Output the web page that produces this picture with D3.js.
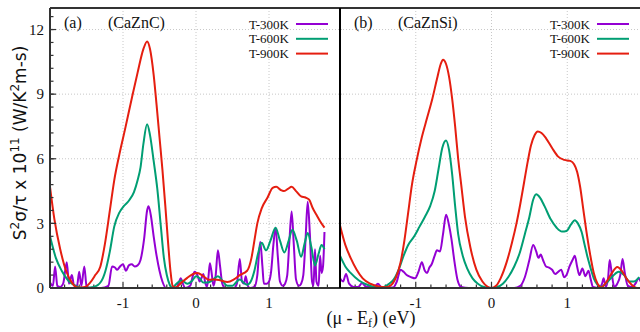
<!DOCTYPE html>
<html>
<head>
<meta charset="utf-8">
<script src="https://cdn.jsdelivr.net/npm/d3@7"></script>
<style>
  body { margin: 0; background: #fff; }
  svg { display: block; }
  text { font-family: "Liberation Serif", serif; fill: #111; }
</style>
</head>
<body>
<script>
// tick values
var xTicks = [-1, 0, 1];
var yTicks = [0, 3, 6, 9, 12];
var legendNames = ["T-300K", "T-600K", "T-900K"];
var panelNames = [["(a)", "(CaZnC)"], ["(b)", "(CaZnSi)"]];
var colors = ["#9400d3", "#009e73", "#e51e10"];

// (a) CaZnC  [mu - Ef, S^2 sigma/tau]
var caznc300 = [[-2,0.25],[-1.96,0.1],[-1.93,1.0],[-1.9,0.1],[-1.86,0.05],[-1.82,0.2],[-1.77,1.2],[-1.74,0.2],[-1.7,0.6],[-1.67,0.1],[-1.63,0.1],[-1.6,0.75],[-1.57,0.1],[-1.53,1.0],[-1.5,0.1],[-1.46,0],[-1.3,0],[-1.2,0.1],[-1.15,1.0],[-1.11,0.95],[-1.08,0.85],[-1.04,1.0],[-1.0,1.1],[-0.96,0.8],[-0.92,1.05],[-0.88,1.1],[-0.84,1.0],[-0.8,1.05],[-0.76,1.3],[-0.71,2.3],[-0.67,3.6],[-0.65,3.8],[-0.62,3.4],[-0.58,2.4],[-0.54,1.5],[-0.5,0.8],[-0.46,0.3],[-0.41,0],[-0.27,0],[-0.23,0.3],[-0.21,0.45],[-0.18,0.2],[-0.15,0],[-0.08,0.1],[-0.04,0.6],[-0.02,0.75],[0.02,0.6],[0.05,0.3],[0.08,0.5],[0.1,0.65],[0.13,0.2],[0.15,0.05],[0.17,0.5],[0.19,1.15],[0.21,0.8],[0.24,0.1],[0.27,0.6],[0.3,1.75],[0.33,1.0],[0.36,0.2],[0.4,0],[0.52,0],[0.56,0.2],[0.6,1.35],[0.63,0.3],[0.66,0.2],[0.68,0.55],[0.71,0.1],[0.74,0],[0.8,0.05],[0.84,0.6],[0.88,2.15],[0.91,1.0],[0.93,0.2],[0.97,0.2],[1.0,0.3],[1.03,0.8],[1.06,2.0],[1.09,2.8],[1.12,1.5],[1.15,0.3],[1.19,0.1],[1.22,0.2],[1.25,0.6],[1.28,2.2],[1.31,3.55],[1.34,2.0],[1.37,0.4],[1.41,0.1],[1.44,0.2],[1.47,0.6],[1.5,2.2],[1.53,4.0],[1.56,2.5],[1.59,0.3],[1.61,0.1],[1.63,1.8],[1.65,0.3],[1.68,0.1],[1.7,1.5],[1.72,0.7],[1.74,1.0],[1.76,2.6]];
var caznc600 = [[-2,2.4],[-1.92,1.4],[-1.84,0.8],[-1.75,0.35],[-1.65,0.1],[-1.55,0],[-1.4,0.05],[-1.3,0.3],[-1.24,0.8],[-1.18,1.7],[-1.12,2.85],[-1.05,3.5],[-0.99,3.8],[-0.92,4.05],[-0.85,4.45],[-0.8,5.0],[-0.76,5.6],[-0.72,6.7],[-0.67,7.6],[-0.63,7.1],[-0.58,5.9],[-0.53,4.6],[-0.48,2.8],[-0.44,1.4],[-0.4,0.6],[-0.36,0.15],[-0.32,0],[-0.28,0.15],[-0.2,0.35],[-0.12,0.2],[-0.05,0.35],[0,0.55],[0.05,0.45],[0.1,0.25],[0.16,0.25],[0.22,0.35],[0.3,0.55],[0.36,0.35],[0.43,0.1],[0.5,0.1],[0.56,0.3],[0.6,0.4],[0.65,0.25],[0.7,0.15],[0.75,0.3],[0.8,0.8],[0.85,1.6],[0.9,2.1],[0.96,1.75],[1.02,2.2],[1.09,2.8],[1.15,2.2],[1.21,1.65],[1.27,2.2],[1.32,2.7],[1.38,2.2],[1.44,1.45],[1.49,2.1],[1.53,2.55],[1.58,1.9],[1.63,1.05],[1.68,1.6],[1.72,2.0],[1.76,1.8]];
var caznc900 = [[-2,4.7],[-1.94,3.2],[-1.86,1.8],[-1.78,0.8],[-1.7,0.25],[-1.62,0.02],[-1.52,0.05],[-1.45,0.25],[-1.38,0.6],[-1.31,1.0],[-1.25,2.0],[-1.18,3.6],[-1.12,5.0],[-1.05,6.2],[-0.97,7.4],[-0.88,8.8],[-0.8,10.0],[-0.72,11.1],[-0.67,11.45],[-0.63,11.1],[-0.58,9.9],[-0.54,8.5],[-0.5,7.0],[-0.46,5.5],[-0.42,3.8],[-0.38,2.0],[-0.35,0.8],[-0.32,0.1],[-0.28,0.02],[-0.2,0.25],[-0.12,0.47],[-0.04,0.65],[0.02,0.7],[0.1,0.55],[0.18,0.38],[0.26,0.4],[0.34,0.35],[0.43,0.28],[0.52,0.4],[0.6,0.6],[0.7,0.8],[0.76,1.4],[0.8,2.2],[0.84,3.0],[0.9,3.7],[0.98,4.2],[1.05,4.65],[1.1,4.7],[1.16,4.55],[1.2,4.5],[1.26,4.6],[1.31,4.7],[1.37,4.5],[1.44,4.25],[1.5,4.2],[1.55,4.1],[1.6,3.7],[1.65,3.4],[1.7,3.1],[1.76,2.8]];

// (b) CaZnSi
var caznsi300 = [[-2,0.45],[-1.96,0.3],[-1.92,0.65],[-1.88,0.2],[-1.82,0.05],[-1.76,0.05],[-1.71,0.22],[-1.65,0.05],[-1.55,0.05],[-1.5,0.2],[-1.45,0.02],[-1.3,0.02],[-1.25,0.3],[-1.2,0.85],[-1.16,0.75],[-1.12,0.6],[-1.06,0.5],[-1.01,0.45],[-0.96,0.8],[-0.92,1.2],[-0.88,0.8],[-0.85,0.7],[-0.82,0.95],[-0.79,1.1],[-0.75,1.5],[-0.72,1.75],[-0.68,1.7],[-0.64,2.5],[-0.6,3.4],[-0.56,2.9],[-0.53,2.3],[-0.49,1.25],[-0.45,0.4],[-0.4,0.05],[-0.3,0],[0.3,0],[0.38,0.1],[0.44,0.5],[0.5,1.3],[0.55,2.0],[0.59,1.7],[0.62,1.4],[0.65,1.55],[0.68,1.3],[0.72,1.0],[0.76,0.95],[0.8,0.85],[0.84,0.65],[0.88,0.75],[0.92,0.85],[0.96,0.5],[0.99,0.6],[1.03,1.0],[1.07,1.3],[1.1,1.5],[1.13,1.0],[1.16,0.6],[1.2,0.9],[1.24,0.55],[1.28,0.8],[1.31,0.4],[1.34,0.05],[1.42,0],[1.46,0.2],[1.48,0.45],[1.51,0.05],[1.54,0.5],[1.56,1.3],[1.59,0.6],[1.62,0.05],[1.66,0.2],[1.7,0.6],[1.73,1.35],[1.76,0.7],[1.8,0.1],[1.86,0.05],[1.9,0.2],[1.94,0.45],[1.97,0.3]];
var caznsi600 = [[-2,1.5],[-1.93,1.0],[-1.86,0.7],[-1.75,0.35],[-1.64,0.15],[-1.5,0.02],[-1.42,0.05],[-1.35,0.2],[-1.29,0.4],[-1.22,0.9],[-1.16,1.5],[-1.1,2.0],[-1.02,2.4],[-0.95,2.85],[-0.88,3.3],[-0.81,3.8],[-0.75,4.5],[-0.7,5.5],[-0.65,6.5],[-0.6,6.85],[-0.56,6.4],[-0.52,5.3],[-0.48,3.8],[-0.44,2.5],[-0.38,1.5],[-0.32,0.9],[-0.25,0.45],[-0.18,0.2],[-0.1,0.05],[0,0],[0.08,0.05],[0.15,0.2],[0.22,0.5],[0.3,1.0],[0.37,1.6],[0.44,2.5],[0.5,3.3],[0.55,4.1],[0.59,4.35],[0.64,4.2],[0.7,3.8],[0.78,3.2],[0.86,2.8],[0.93,2.62],[0.99,2.65],[1.05,2.95],[1.1,3.15],[1.14,3.0],[1.19,2.6],[1.23,2.0],[1.27,1.4],[1.31,0.9],[1.35,0.45],[1.4,0.15],[1.45,0.05],[1.52,0.25],[1.6,0.55],[1.68,0.75],[1.75,0.6],[1.82,0.3],[1.88,0.3],[1.95,0.5]];
var caznsi900 = [[-2,2.9],[-1.93,2.0],[-1.86,1.4],[-1.78,0.85],[-1.7,0.45],[-1.6,0.2],[-1.5,0.08],[-1.4,0.03],[-1.32,0.15],[-1.26,0.5],[-1.2,1.2],[-1.15,2.2],[-1.1,3.5],[-1.05,4.8],[-0.99,5.9],[-0.92,7.0],[-0.85,7.9],[-0.78,8.8],[-0.72,9.7],[-0.67,10.4],[-0.64,10.6],[-0.6,10.4],[-0.56,9.8],[-0.52,8.8],[-0.48,7.5],[-0.44,6.0],[-0.4,4.8],[-0.35,3.3],[-0.28,1.9],[-0.2,0.85],[-0.12,0.3],[-0.05,0.05],[0,0],[0.06,0.1],[0.12,0.45],[0.2,1.2],[0.27,2.1],[0.33,3.0],[0.38,3.9],[0.43,4.9],[0.48,5.9],[0.52,6.6],[0.57,7.1],[0.61,7.27],[0.66,7.2],[0.72,6.95],[0.8,6.5],[0.88,6.1],[0.96,5.95],[1.04,5.9],[1.09,5.75],[1.13,5.4],[1.17,4.7],[1.21,3.7],[1.25,2.7],[1.3,1.6],[1.35,0.7],[1.4,0.2],[1.45,0.03],[1.52,0.3],[1.59,0.7],[1.66,0.98],[1.72,0.8],[1.78,0.45],[1.85,0.15],[1.92,0],[1.96,0]];

var W = 640, H = 332;
var yTop = 8, yBot = 288;

var svg = d3.select("body").append("svg")
    .attr("width", W)
    .attr("height", H);

var y = d3.scaleLinear().domain([0, 13]).range([yBot, yTop]);

var panels = [
    {x0: 50, x1: 342, series: [caznc300, caznc600, caznc900], legX: 289},
    {x0: 340, x1: 643, series: [caznsi300, caznsi600, caznsi900], legX: 590}
];

svg.append("defs").append("clipPath").attr("id", "clipb")
    .append("rect").attr("x", 340).attr("y", yTop).attr("width", 300).attr("height", yBot - yTop);

panels.forEach(function (p, pi) {
    var x = d3.scaleLinear().domain([-2, 2]).range([p.x0, p.x1]);
    var g = svg.append("g");
    var xEnd = Math.min(p.x1, 640);

    // grid
    g.selectAll(".gx").data(xTicks).enter().append("line")
        .attr("x1", function (d) { return x(d); }).attr("x2", function (d) { return x(d); })
        .attr("y1", yTop).attr("y2", yBot)
        .attr("stroke", "#c8c8c8").attr("stroke-dasharray", "1,2");
    g.selectAll(".gy").data(yTicks.slice(1)).enter().append("line")
        .attr("x1", p.x0).attr("x2", xEnd)
        .attr("y1", function (d) { return y(d); }).attr("y2", function (d) { return y(d); })
        .attr("stroke", "#c8c8c8").attr("stroke-dasharray", "1,2");

    // x ticks (inward)
    var minor = d3.range(-1.8, 2, 0.2).map(function (d) { return Math.round(d * 10) / 10; });
    g.selectAll(".mx").data(minor).enter().append("line")
        .attr("x1", function (d) { return x(d); }).attr("x2", function (d) { return x(d); })
        .attr("y1", yBot).attr("y2", function (d) { return xTicks.indexOf(d) >= 0 ? yBot - 6 : yBot - 3.5; })
        .attr("stroke", "#333").attr("stroke-width", 1.2);

    g.selectAll(".tx").data(xTicks).enter().append("text")
        .attr("x", function (d) { return x(d); })
        .attr("y", 308)
        .attr("text-anchor", "middle")
        .style("font-size", "15px")
        .text(function (d) { return d; });

    // curves
    var line = d3.line()
        .x(function (d) { return x(d[0]); })
        .y(function (d) { return y(d[1]); })
        .curve(d3.curveMonotoneX);
    var cg = g.append("g");
    if (pi === 1) cg.attr("clip-path", "url(#clipb)");
    p.series.forEach(function (s, i) {
        cg.append("path")
            .attr("d", line(s))
            .attr("fill", "none")
            .attr("stroke", colors[i])
            .attr("stroke-width", 2)
            .attr("stroke-linejoin", "round");
    });

    // frame
    g.append("line").attr("x1", p.x0).attr("x2", xEnd).attr("y1", yBot).attr("y2", yBot)
        .attr("stroke", "#333").attr("stroke-width", 2);
    g.append("line").attr("x1", p.x0).attr("x2", xEnd).attr("y1", yTop).attr("y2", yTop)
        .attr("stroke", "#333").attr("stroke-width", 2);

    // titles
    g.append("text").attr("x", p.x0 + 14).attr("y", 28).style("font-size", "16px").text(panelNames[pi][0]);
    g.append("text").attr("x", p.x0 + 58).attr("y", 28).style("font-size", "16px").text(panelNames[pi][1]);

    // legend
    legendNames.forEach(function (n, i) {
        var ly = 24 + i * 14.8;
        g.append("text").attr("x", p.legX).attr("y", ly + 4.5)
            .attr("text-anchor", "end").style("font-size", "13px").text(n);
        g.append("line").attr("x1", p.legX + 7).attr("x2", p.legX + 39)
            .attr("y1", ly).attr("y2", ly)
            .attr("stroke", colors[i]).attr("stroke-width", 2);
    });
});

// y axis on the left panel
var yMinor = d3.range(0, 13, 0.6);
svg.selectAll(".my").data(yMinor).enter().append("line")
    .attr("x1", 50).attr("x2", 53.5)
    .attr("y1", function (d) { return y(d); }).attr("y2", function (d) { return y(d); })
    .attr("stroke", "#333").attr("stroke-width", 1.2);
svg.selectAll(".ty").data(yTicks).enter().append("line")
    .attr("x1", 50).attr("x2", 56)
    .attr("y1", function (d) { return y(d); }).attr("y2", function (d) { return y(d); })
    .attr("stroke", "#333").attr("stroke-width", 1.2);
svg.selectAll(".yl").data(yTicks).enter().append("text")
    .attr("x", 44)
    .attr("y", function (d) { return y(d); })
    .attr("dy", "0.35em")
    .attr("text-anchor", "end")
    .style("font-size", "15px")
    .text(function (d) { return d; });

svg.append("line").attr("x1", 50).attr("x2", 50).attr("y1", yTop).attr("y2", yBot)
    .attr("stroke", "#333").attr("stroke-width", 2);
svg.append("line").attr("x1", 340).attr("x2", 340).attr("y1", yTop).attr("y2", yBot)
    .attr("stroke", "#000").attr("stroke-width", 2);

// axis titles
var yl = svg.append("text")
    .attr("transform", "translate(26,143) rotate(-90)")
    .attr("text-anchor", "middle")
    .style("font-family", "'DejaVu Sans', sans-serif")
    .style("font-size", "17px");
yl.append("tspan").text("S");
yl.append("tspan").attr("dy", -7).style("font-size", "12px").text("2");
yl.append("tspan").attr("dy", 7).text("σ/τ x 10");
yl.append("tspan").attr("dy", -7).style("font-size", "12px").text("11");
yl.append("tspan").attr("dy", 7).text("  (W/K");
yl.append("tspan").attr("dy", -7).style("font-size", "12px").text("2");
yl.append("tspan").attr("dy", 7).text("m-s)");

var xl = svg.append("text")
    .attr("x", 371).attr("y", 324)
    .attr("text-anchor", "middle")
    .style("font-size", "18px");
xl.append("tspan").text("(μ - E");
xl.append("tspan").attr("dy", 3).style("font-size", "12px").text("f");
xl.append("tspan").attr("dy", -3).text(") (eV)");
</script>
</body>
</html>
